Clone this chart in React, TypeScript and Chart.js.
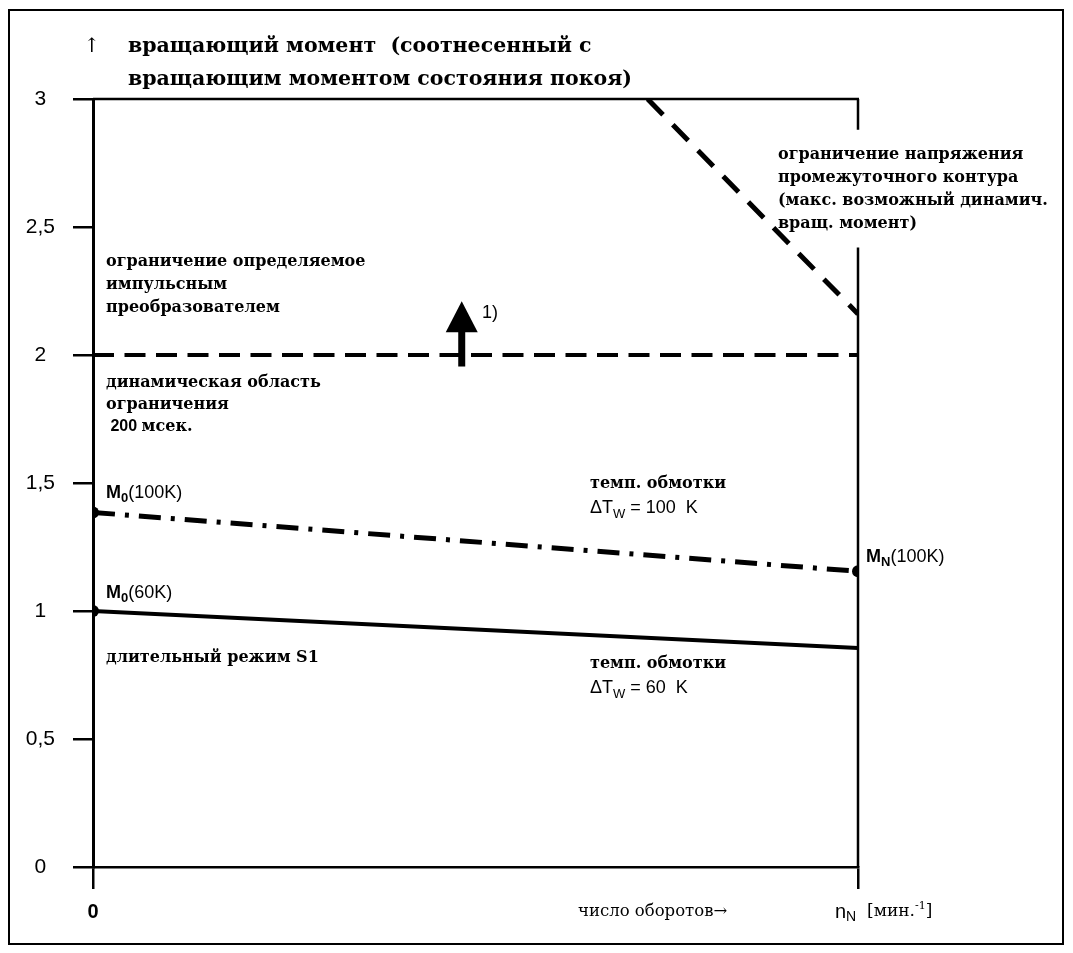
import React, { useEffect, useRef } from 'react';
import { Chart, registerables } from 'chart.js';

Chart.register(...registerables);

// ---- data ----
const speedPoints = [0, 1]; // 0 .. n_N (normalised speed)
const torqueS1 = [1.0, 0.855]; // ΔTw = 60 K, continuous S1
const torque100K = [1.385, 1.155]; // ΔTw = 100 K
const pulseLimitTorque = [2.0, 2.0]; // limit from pulse converter
const voltageLimitSpeed = [0.725, 1.0];
const voltageLimitTorque = [3.0, 2.16]; // DC-link voltage limit
const yTickValues = [0, 0.5, 1, 1.5, 2, 2.5, 3];
const yTickLabels = ['0', '0,5', '1', '1,5', '2', '2,5', '3'];
const xTickLabels = ['0', ''];
const arrowSpeed = 0.482;
const arrowTorque = [1.955, 2.21]; // from, to
const rightGapTorque = [2.88, 2.42];

const SERIF = '"DejaVu Serif", serif';
const SANS = '"Liberation Sans", Arial, sans-serif';

type Piece = { t: string; font: string; dy?: number };

function drawPieces(ctx: CanvasRenderingContext2D, pieces: Piece[], x: number, y: number) {
  let cx = x;
  for (const p of pieces) {
    ctx.font = p.font;
    ctx.fillText(p.t, cx, y + (p.dy || 0));
    cx += ctx.measureText(p.t).width;
  }
}

const annotations = {
  id: 'annotations',
  beforeDraw(chart: any) {
    const { ctx } = chart;
    ctx.save();
    ctx.fillStyle = '#fff';
    ctx.fillRect(0, 0, chart.width, chart.height);
    ctx.restore();
  },
  afterDraw(chart: any) {
    const { ctx, chartArea, scales } = chart;
    const xs = scales.x;
    const ys = scales.y;
    ctx.save();
    ctx.strokeStyle = '#000';
    ctx.fillStyle = '#000';
    ctx.lineCap = 'butt';

    // top border at y = 3
    ctx.lineWidth = 2.5;
    ctx.beginPath();
    ctx.moveTo(chartArea.left, ys.getPixelForValue(3));
    ctx.lineTo(xs.getPixelForValue(1) + 1, ys.getPixelForValue(3));
    ctx.stroke();
    // right border at n_N with a gap for text
    const rx = xs.getPixelForValue(1);
    ctx.beginPath();
    ctx.moveTo(rx, ys.getPixelForValue(3));
    ctx.lineTo(rx, ys.getPixelForValue(rightGapTorque[0]));
    ctx.moveTo(rx, ys.getPixelForValue(rightGapTorque[1]));
    ctx.lineTo(rx, ys.getPixelForValue(0));
    ctx.stroke();

    // outer frame
    ctx.lineWidth = 2;
    ctx.strokeRect(9, 10, 1054, 934);

    // arrow "1)"
    const ax = xs.getPixelForValue(arrowSpeed);
    const ay0 = ys.getPixelForValue(arrowTorque[0]);
    const ay1 = ys.getPixelForValue(arrowTorque[1]);
    ctx.lineWidth = 7;
    ctx.beginPath();
    ctx.moveTo(ax, ay0);
    ctx.lineTo(ax, ay1 + 28);
    ctx.stroke();
    ctx.beginPath();
    ctx.moveTo(ax, ay1);
    ctx.lineTo(ax - 16, ay1 + 31);
    ctx.lineTo(ax + 16, ay1 + 31);
    ctx.closePath();
    ctx.fill();

    ctx.textBaseline = 'middle';
    ctx.textAlign = 'left';
    const B16 = `bold 16px ${SERIF}`;

    // title
    ctx.font = `20px ${SERIF}`;
    ctx.textAlign = 'center';
    ctx.fillText('↑', 92, 47);
    ctx.textAlign = 'left';
    ctx.font = `bold 20.5px ${SERIF}`;
    ctx.fillText('вращающий момент  (соотнесенный с', 128, 47);
    ctx.fillText('вращающим моментом состояния покоя)', 128, 80);

    ctx.font = B16;
    ['ограничение определяемое', 'импульсным', 'преобразователем'].forEach((s, i) =>
      ctx.fillText(s, 106, 262 + i * 23)
    );
    ['динамическая область', 'ограничения'].forEach((s, i) => ctx.fillText(s, 106, 383 + i * 22));
    drawPieces(ctx, [
      { t: ' 200 ', font: `bold 16px ${SANS}` },
      { t: 'мсек.', font: B16 },
    ], 106, 427);

    ctx.font = B16;
    ['ограничение напряжения', 'промежуточного контура', '(макс. возможный динамич.', 'вращ. момент)'].forEach(
      (s, i) => ctx.fillText(s, 778, 155 + i * 23)
    );

    ctx.font = B16;
    ctx.fillText('длительный режим S1', 106, 658);
    ctx.fillText('темп. обмотки', 590, 484);
    ctx.fillText('темп. обмотки', 590, 664);

    const S18 = `18px ${SANS}`;
    const SB18 = `bold 18px ${SANS}`;
    const SB13 = `bold 13px ${SANS}`;
    const S13 = `13px ${SANS}`;
    drawPieces(ctx, [{ t: 'ΔT', font: S18 }, { t: 'W', font: S13, dy: 6 }, { t: ' = 100  K', font: S18 }], 590, 508);
    drawPieces(ctx, [{ t: 'ΔT', font: S18 }, { t: 'W', font: S13, dy: 6 }, { t: ' = 60  K', font: S18 }], 590, 688);

    drawPieces(ctx, [{ t: 'M', font: SB18 }, { t: '0', font: SB13, dy: 5 }, { t: '(100K)', font: S18 }], 106, 493);
    drawPieces(ctx, [{ t: 'M', font: SB18 }, { t: '0', font: SB13, dy: 5 }, { t: '(60K)', font: S18 }], 106, 593);
    drawPieces(ctx, [{ t: 'M', font: SB18 }, { t: 'N', font: SB13, dy: 5 }, { t: '(100K)', font: S18 }], 866, 557);

    ctx.font = S18;
    ctx.fillText('1)', 482, 313);

    // x-axis texts
    ctx.font = `16.5px ${SERIF}`;
    ctx.fillText('число оборотов→', 578, 912);
    drawPieces(ctx, [
      { t: 'n', font: `20px ${SANS}` },
      { t: 'N', font: `14px ${SANS}`, dy: 5 },
      { t: '  [мин.', font: `17px ${SERIF}` },
      { t: '-1', font: `11px ${SERIF}`, dy: -6 },
      { t: ']', font: `17px ${SERIF}` },
    ], 835, 912);

    ctx.restore();
  },
};

export default function App() {
  const ref = useRef<HTMLCanvasElement | null>(null);

  useEffect(() => {
    if (!ref.current) return;
    const pts = (xs: number[], ys: number[]) => xs.map((x, i) => ({ x, y: ys[i] }));
    const chart = new Chart(ref.current, {
      type: 'scatter',
      data: {
        datasets: [
          {
            label: 'ограничение напряжения промежуточного контура',
            data: pts(voltageLimitSpeed, voltageLimitTorque),
            showLine: true,
            borderColor: '#000',
            borderWidth: 5,
            borderDash: [22, 14],
            pointRadius: 0,
          },
          {
            label: 'ограничение импульсного преобразователя',
            data: pts(speedPoints, pulseLimitTorque),
            showLine: true,
            borderColor: '#000',
            borderWidth: 4,
            borderDash: [21, 10.5],
            pointRadius: 0,
          },
          {
            label: 'ΔTw = 100 K',
            data: pts(speedPoints, torque100K),
            showLine: true,
            borderColor: '#000',
            backgroundColor: '#000',
            borderWidth: 5,
            borderDash: [22, 10, 4, 10],
            pointRadius: 6,
            pointBorderWidth: 0,
          },
          {
            label: 'ΔTw = 60 K',
            data: pts(speedPoints, torqueS1),
            showLine: true,
            borderColor: '#000',
            backgroundColor: '#000',
            borderWidth: 4,
            pointRadius: [6, 0],
            pointBorderWidth: 0,
          },
        ],
      },
      options: {
        responsive: false,
        animation: false,
        layout: { padding: { left: 20, top: 99, right: 215, bottom: 0 } },
        plugins: { legend: { display: false }, tooltip: { enabled: false } },
        scales: {
          x: {
            type: 'linear',
            min: 0,
            max: 1,
            afterBuildTicks: (s: any) => {
              s.ticks = speedPoints.map((v) => ({ value: v }));
            },
            afterFit: (s: any) => {
              s.height = 86;
            },
            grid: { drawOnChartArea: false, color: '#000', lineWidth: 2.5, tickLength: 22 },
            border: { display: true, color: '#000', width: 2.5 },
            ticks: {
              color: '#000',
              padding: 11,
              font: { family: 'Liberation Sans', size: 20, weight: 'bold' },
              maxRotation: 0,
              callback: (_v: any, i: number) => xTickLabels[i],
            },
          },
          y: {
            type: 'linear',
            min: 0,
            max: 3,
            afterBuildTicks: (s: any) => {
              s.ticks = yTickValues.map((v) => ({ value: v }));
            },
            afterFit: (s: any) => {
              s.width = 73;
            },
            grid: { drawOnChartArea: false, color: '#000', lineWidth: 2.5, tickLength: 20 },
            border: { display: true, color: '#000', width: 3 },
            ticks: {
              color: '#000',
              crossAlign: 'center',
              padding: 18,
              font: { family: 'Liberation Sans', size: 21 },
              callback: (_v: any, i: number) => yTickLabels[i],
            },
          },
        },
      },
      plugins: [annotations],
    } as any);
    return () => chart.destroy();
  }, []);

  return (
    <div style={{ position: 'absolute', left: 0, top: 0, width: 1073, height: 953, background: '#fff' }}>
      <canvas ref={ref} width={1073} height={953} style={{ display: 'block' }} />
    </div>
  );
}
